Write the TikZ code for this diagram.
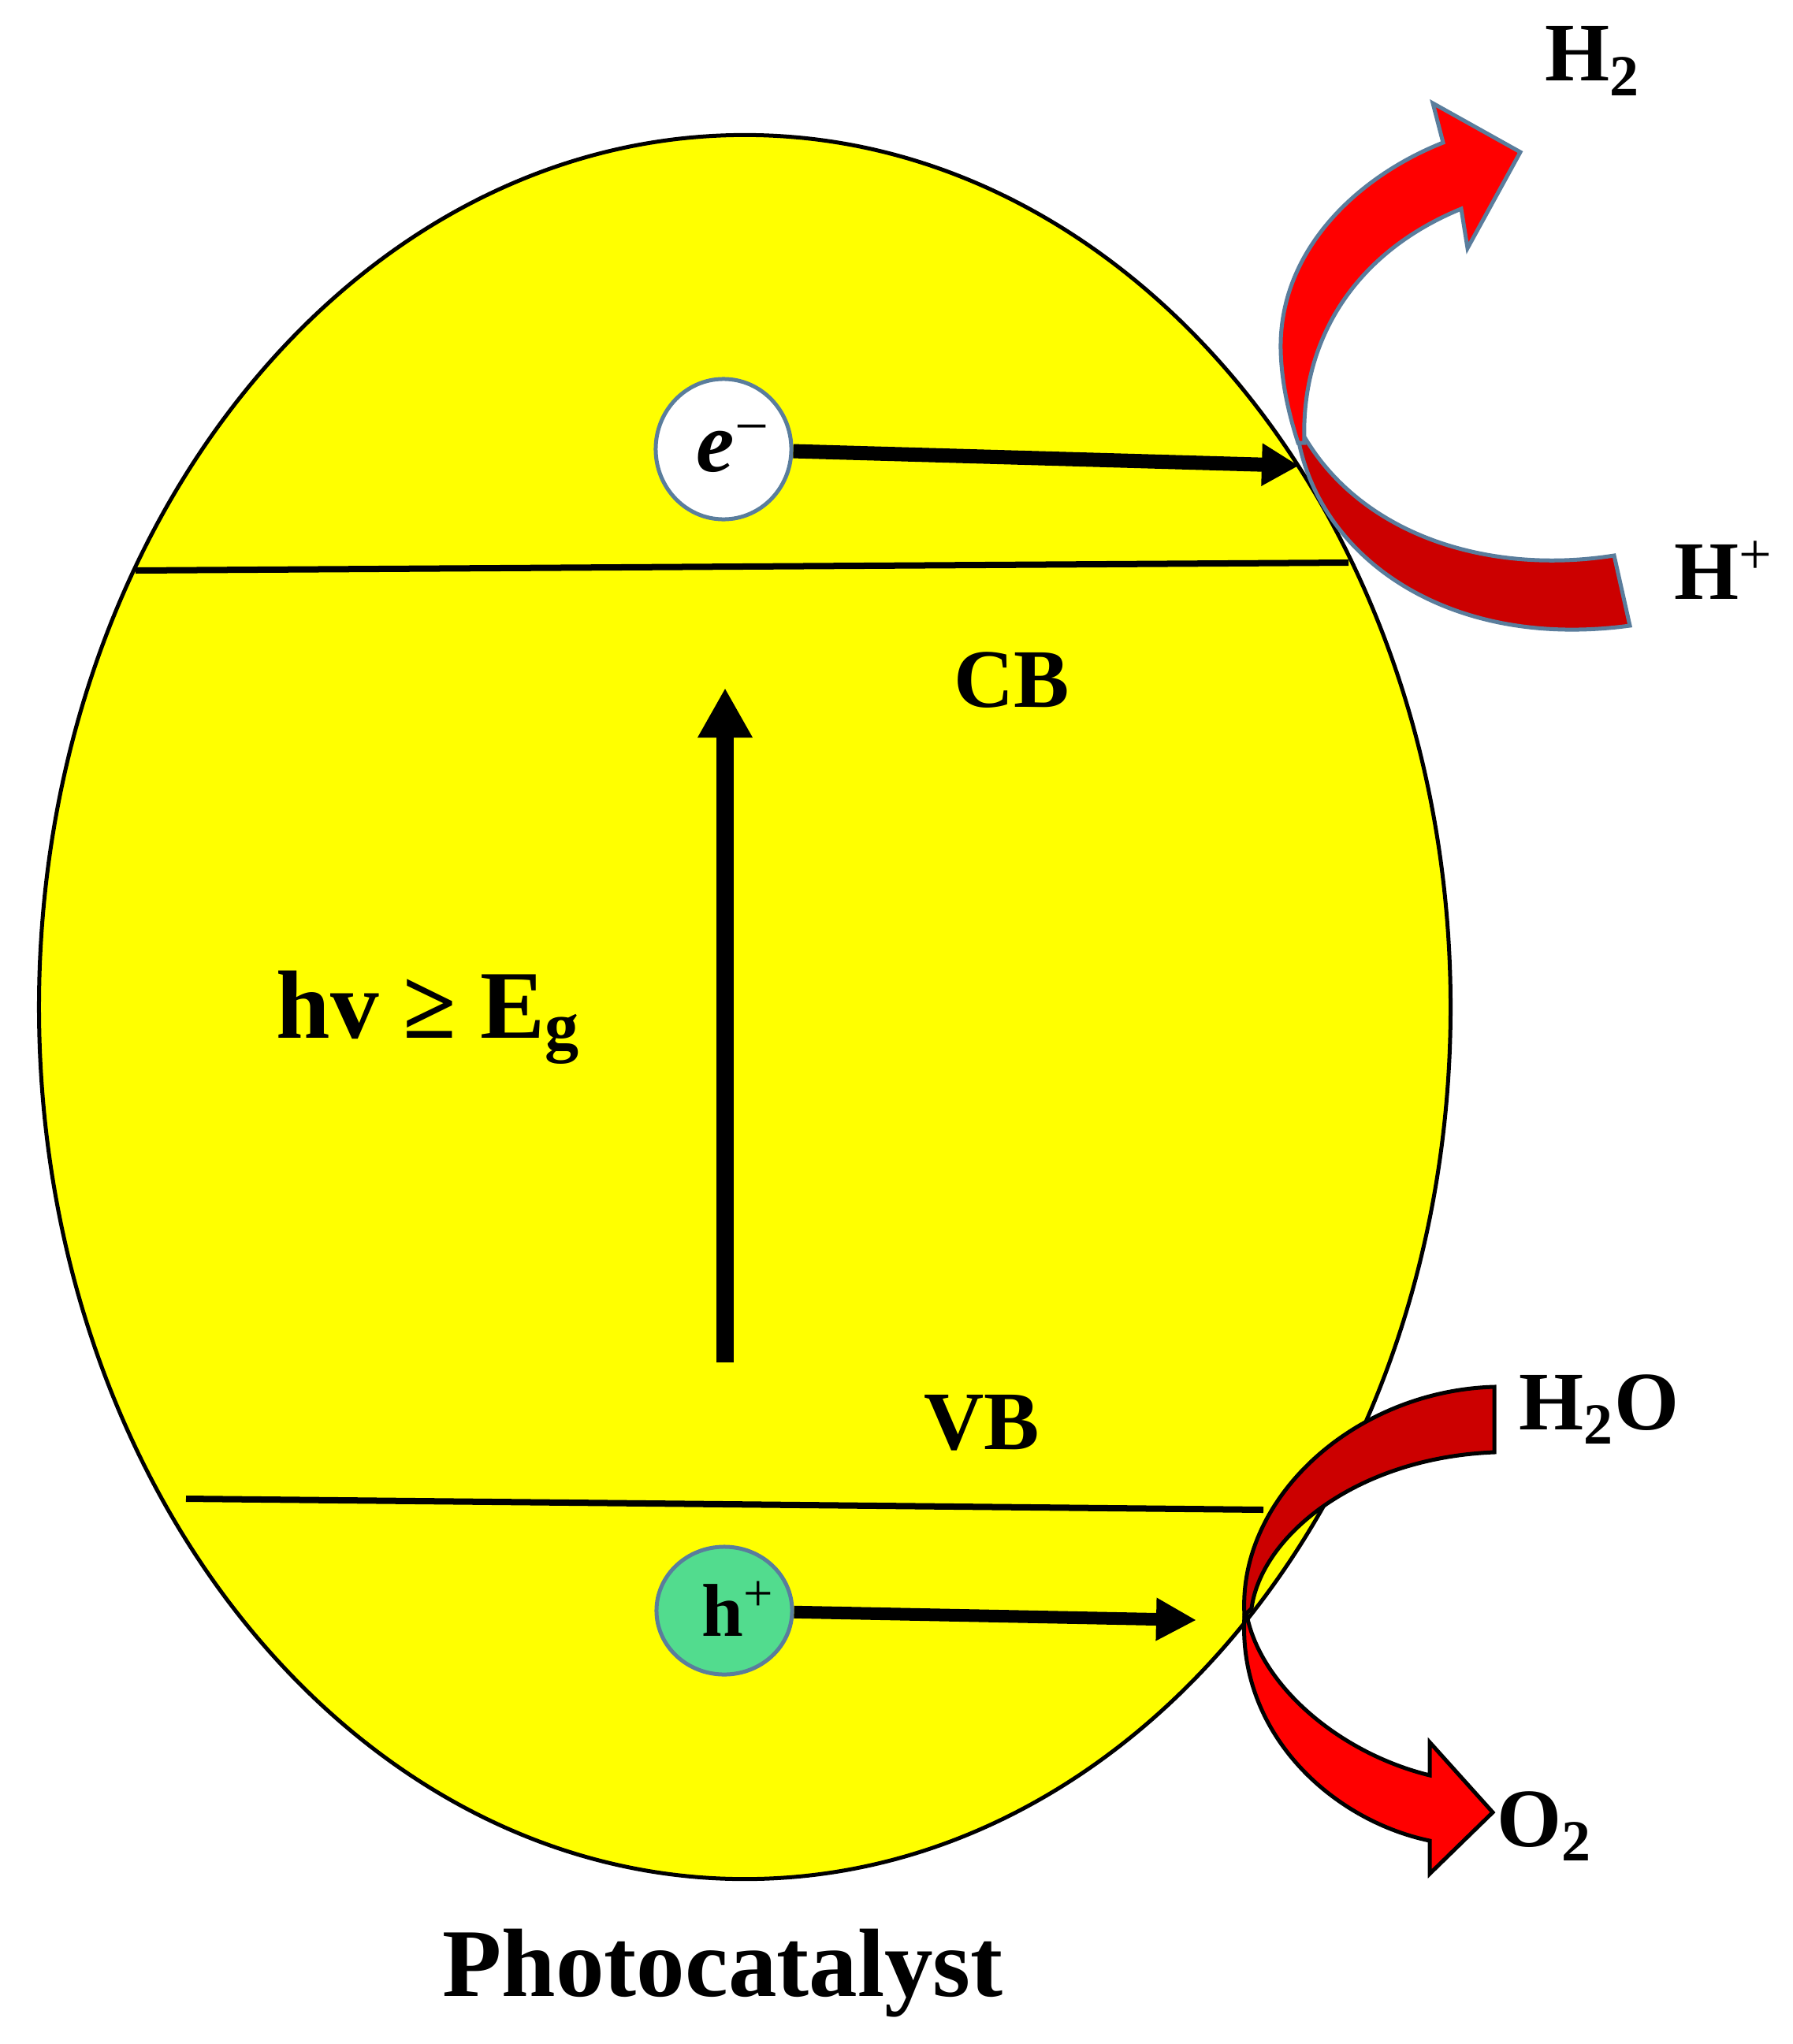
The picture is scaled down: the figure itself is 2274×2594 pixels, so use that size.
\documentclass[tikz,border=0pt]{standalone}
\usepackage{fontspec}
\setmainfont{Liberation Serif}
\usetikzlibrary{arrows.meta,shapes.geometric}
\definecolor{eggyellow}{HTML}{FFFF00}
\definecolor{bandred}{HTML}{FF0000}
\definecolor{darkband}{HTML}{CC0000}
\definecolor{steel}{HTML}{5A7D9C}
\definecolor{holegreen}{HTML}{52DC8E}
\begin{document}
\begin{tikzpicture}[x=0.01cm,y=-0.01cm,
    lbl/.style={inner sep=0pt,anchor=base west,font=\fontsize{30}{33}\selectfont\bfseries},
    biglbl/.style={lbl,font=\fontsize{35}{40}\selectfont\bfseries},
    carrier/.style={ellipse,draw=steel,line width=0.05cm,inner sep=0pt},
    levelline/.style={black,line width=0.08cm},
    shaft/.style={black,line width=#1},
    band/.style={line width=0.05cm,line join=miter}]
    \useasboundingbox (0,0) rectangle (2274,2594);

    % Photocatalyst particle
    \node (particle) at (945,1278) [ellipse,draw=black,fill=eggyellow,line width=0.05cm,inner sep=0pt,
        minimum width=17.9cm,minimum height=22.12cm] {};

    % Band edges
    \coordinate (cbleft) at (172,724);
    \coordinate (cbright) at (1711,714);
    \coordinate (vbleft) at (236,1902);
    \coordinate (vbright) at (1603,1916);
    \draw[levelline] (cbleft) -- (cbright);
    \draw[levelline] (vbleft) -- (vbright);

    % Charge carriers
    \node (eminus) at (918,570) [carrier,fill=white,minimum width=1.72cm,minimum height=1.78cm] {};
    \node (hplus) at (919,2044) [carrier,fill=holegreen,minimum width=1.72cm,minimum height=1.62cm] {};
    \node (etext) at (883,598) [lbl,font=\fontsize{31}{34}\selectfont\bfseries] {\textit{e}\textsuperscript{\normalfont −}};
    \node (htext) at (890,2076) [lbl,font=\fontsize{27}{30}\selectfont\bfseries] {h\textsuperscript{\normalfont +}};

    % Arrows
    \coordinate (etip) at (1648,591);
    \coordinate (htip) at (1518,2056);
    \coordinate (gapstart) at (920,1729);
    \coordinate (gaptip) at (920,873);
    \draw[shaft=0.18cm,-{Triangle[length=0.47cm,width=0.51cm]}] (eminus) -- (etip);
    \draw[shaft=0.16cm,-{Triangle[length=0.51cm,width=0.51cm]}] (hplus) -- (htip);
    \draw[shaft=0.22cm,-{Triangle[length=0.63cm,width=0.65cm]}] (gapstart) -- (gaptip);

    % Reduction arrow
    \draw[band,draw=steel,fill=darkband] (2048,705) .. controls (1890,730) and (1730,680) .. (1656,556)
        -- (1647,556) .. controls (1675,710) and (1840,825) .. (2068,794) -- cycle;
    \draw[band,draw=steel,fill=bandred] (1929,193) -- (1818,131) -- (1831,181)
        .. controls (1720,225) and (1622,320) .. (1625,445) .. controls (1626,485) and (1635,525) .. (1647,562)
        -- (1655,562) .. controls (1650,430) and (1720,320) .. (1854,265)
        -- (1862,315) -- cycle;

    % Oxidation arrow
    \draw[band,draw=black,fill=darkband] (1896,1760) .. controls (1720,1765) and (1570,1900) .. (1579,2050)
        -- (1588,2041) .. controls (1600,1950) and (1720,1850) .. (1896,1843) -- cycle;
    \draw[band,draw=black,fill=bandred] (1894,2300) -- (1814,2211) -- (1814,2253)
        .. controls (1700,2225) and (1600,2140) .. (1582,2050)
        -- (1579,2050) .. controls (1570,2200) and (1690,2310) .. (1814,2336)
        -- (1814,2378) -- cycle;

    % Labels
    \node (cb) at (1210,897) [lbl] {CB};
    \node (vb) at (1172,1839) [lbl] {VB};
    \node (gap) at (350,1317) [biglbl] {hv ≥ E\textsubscript{g}};
    \node (hydrogen) at (1960,103) [lbl] {H\textsubscript{2}};
    \node (proton) at (2124,760) [lbl] {H\textsuperscript{\normalfont +}};
    \node (water) at (1927,1814) [lbl] {H\textsubscript{2}O};
    \node (oxygen) at (1899,2343) [lbl] {O\textsubscript{2}};
    \node (title) at (561,2533) [biglbl] {Photocatalyst};
\end{tikzpicture}
\end{document}
